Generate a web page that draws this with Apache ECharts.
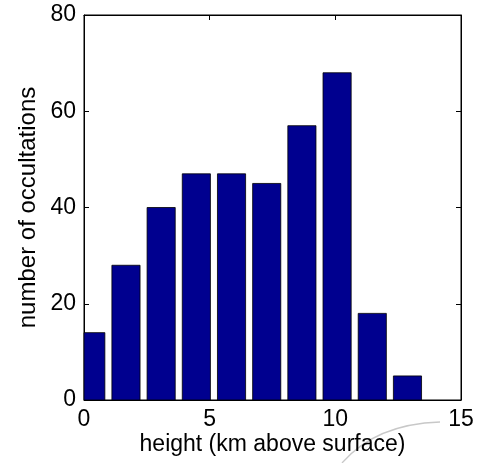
<!DOCTYPE html>
<html>
<head>
<meta charset="utf-8">
<script src="https://cdn.jsdelivr.net/npm/echarts@6/dist/echarts.min.js"></script>
<style>
  html, body { margin: 0; padding: 0; background: #ffffff; }
  #chart { width: 477px; height: 463px; }
</style>
</head>
<body>
<div id="chart"></div>
<script>
// Histogram bin centres (km) and counts per bin
const binCenters = [0.27, 1.67, 3.07, 4.47, 5.87, 7.27, 8.67, 10.07, 11.47, 12.87];
const counts = [14, 28, 40, 47, 47, 45, 57, 68, 18, 5];
const binWidth = 1.4;
const xTicks = [0, 5, 10, 15];
const yTicks = [0, 20, 40, 60, 80];

const FONT = 'Liberation Sans, Arial, sans-serif';
const FS = 23;
const barHalf = binWidth * 0.8 / 2;

const chart = echarts.init(document.getElementById('chart'), null, { renderer: 'canvas' });

function renderBar(params, api) {
  const x = api.value(0);
  const y = api.value(1);
  const p0 = api.coord([x - barHalf, y]);
  const p1 = api.coord([x + barHalf, 0]);
  const cs = params.coordSys;
  const shape = echarts.graphic.clipRectByRect(
    { x: p0[0], y: p0[1], width: p1[0] - p0[0], height: p1[1] - p0[1] },
    { x: cs.x, y: cs.y, width: cs.width, height: cs.height }
  );
  if (!shape) return null;
  return {
    type: 'rect',
    shape: shape,
    style: { fill: '#00008f', stroke: '#000000', lineWidth: 0.8 }
  };
}

const axisLine = { show: true, onZero: false, lineStyle: { color: '#000', width: 1 } };
const tickStyle = { show: true, inside: true, length: 5, lineStyle: { color: '#000', width: 1 } };

chart.setOption({
  animation: false,
  backgroundColor: '#ffffff',
  grid: {
    left: 84, right: 16, top: 15, bottom: 63, containLabel: false,
    show: true, borderColor: '#000', borderWidth: 1, backgroundColor: 'transparent'
  },
  xAxis: [
    {
      type: 'value', position: 'bottom',
      min: xTicks[0], max: xTicks[xTicks.length - 1], interval: 5,
      axisLine: axisLine, axisTick: tickStyle, splitLine: { show: false },
      axisLabel: { color: '#000', fontFamily: FONT, fontSize: FS, margin: 8 },
      name: 'height (km above surface)', nameLocation: 'middle', nameGap: 33,
      nameMoveOverlap: false,
      nameTextStyle: { color: '#000', fontFamily: FONT, fontSize: FS }
    },
    {
      type: 'value', position: 'top',
      min: xTicks[0], max: xTicks[xTicks.length - 1], interval: 5,
      axisLine: axisLine, axisTick: tickStyle, splitLine: { show: false },
      axisLabel: { show: false }
    }
  ],
  yAxis: [
    {
      type: 'value', position: 'left',
      min: yTicks[0], max: yTicks[yTicks.length - 1], interval: 20,
      axisLine: axisLine, axisTick: tickStyle, splitLine: { show: false },
      axisLabel: { color: '#000', fontFamily: FONT, fontSize: FS, margin: 8 },
      name: 'number of occultations', nameLocation: 'middle', nameGap: 44,
      nameMoveOverlap: false,
      nameTextStyle: { color: '#000', fontFamily: FONT, fontSize: 24 }
    },
    {
      type: 'value', position: 'right',
      min: yTicks[0], max: yTicks[yTicks.length - 1], interval: 20,
      axisLine: axisLine, axisTick: tickStyle, splitLine: { show: false },
      axisLabel: { show: false }
    }
  ],
  graphic: [
    {
      type: 'bezierCurve',
      silent: true,
      shape: { x1: 342, y1: 463, cpx1: 376, cpy1: 424, x2: 440, y2: 422 },
      style: { fill: null, stroke: '#c8c8c8', lineWidth: 1.3 },
      z: -1
    }
  ],
  series: [
    {
      type: 'custom',
      xAxisIndex: 0,
      yAxisIndex: 0,
      renderItem: renderBar,
      data: binCenters.map((c, i) => [c, counts[i]]),
      encode: { x: 0, y: 1 }
    },
    {
      // empty series bound to the mirrored top/right axes
      type: 'line',
      xAxisIndex: 1,
      yAxisIndex: 1,
      data: [],
      silent: true
    }
  ]
});
</script>
</body>
</html>
